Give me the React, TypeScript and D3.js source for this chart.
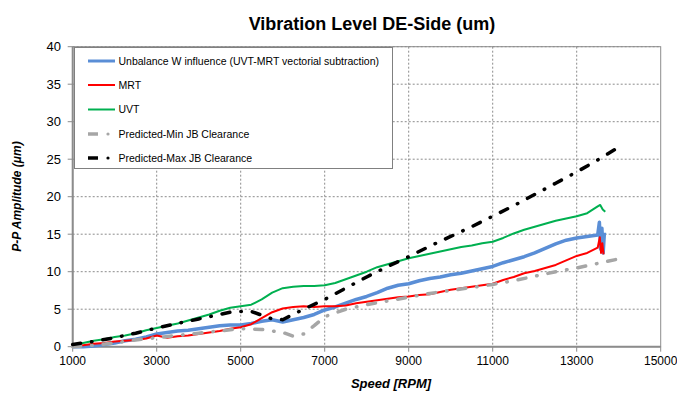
import React from "react";
import * as d3 from "d3";

const TITLE = "Vibration Level DE-Side (um)";
const X_TITLE = "Speed [RPM]";
const Y_TITLE = "P-P Amplitude (\u03bcm)";
const X_TICKS = [1000, 3000, 5000, 7000, 9000, 11000, 13000, 15000];
const Y_TICKS = [0, 5, 10, 15, 20, 25, 30, 35, 40];

const RPM_MAIN = [1000,1250,1500,1750,2000,2250,2500,2750,3000,3250,3500,3750,4000,4250,4500,4750,5000,5250,5500,5750,6000,6250,6500,6750,7000,7250,7500,7750,8000,8250,8500,8750,9000,9250,9500,9750,10000,10250,10500,10750,11000,11250,11500,11750,12000,12250,12500,12750,13000,13250,13500];

const UNB_RPM = [...RPM_MAIN, 13540, 13570, 13600, 13630, 13660];
const UNB_VAL = [0.0,0.0,0.1,0.3,0.5, 0.8,1.0,1.3,1.7, 1.9,2.1,2.2,2.4, 2.6,2.8,2.9,2.9, 3.1,3.4,3.6,3.3, 3.6,3.9,4.3,4.9, 5.3,5.8,6.3,6.7, 7.2,7.8,8.2,8.4, 8.8,9.1,9.3,9.6, 9.8,10.1,10.4,10.7, 11.2,11.6,12.0,12.5, 13.1,13.7,14.2,14.5, 14.7,14.9, 16.6,13.0,15.8,12.5,15.2];

const MRT_RPM = [...RPM_MAIN, 13550, 13580, 13610, 13640];
const MRT_VAL = [0.0,0.2,0.4,0.5,0.7, 0.8,0.9,1.1,1.5, 1.2,1.4,1.5,1.7, 1.9,2.1,2.4,2.6, 3.0,3.8,4.6,5.1, 5.3,5.4,5.3,5.4, 5.4,5.5,5.8,6.0, 6.2,6.4,6.6,6.7, 6.9,7.0,7.3,7.6, 7.8,8.0,8.2,8.4, 8.9,9.3,9.8,10.1, 10.5,10.9,11.5,12.1, 12.5,13.2, 14.6,12.5,13.8,12.3];

const UVT_RPM = [...RPM_MAIN, 13560, 13620, 13680];
const UVT_VAL = [0.2,0.5,0.8,1.0,1.3, 1.5,1.8,2.2,2.5, 2.8,3.1,3.5,3.9, 4.3,4.8,5.2,5.4, 5.6,6.3,7.2,7.8, 8.0,8.1,8.1,8.2, 8.5,9.0,9.5,10.0, 10.6,11.0,11.4,11.8, 12.1,12.4,12.7,13.0, 13.3,13.5,13.8,14.0, 14.5,15.1,15.6,16.0, 16.4,16.8,17.1,17.4, 17.8,18.7, 18.9,18.3,18.0];

const MIN_RPM = [1000,1500,2000,2500,3000,3500,4000,4500,5000,5500,6000,6250,6500,6750,7000,7500,8000,8500,9000,9500,10000,10500,11000,11500,12000,12500,13000,13500,14000];
const MIN_VAL = [0.0,0.2,0.5,0.9,1.2,1.5,1.8,2.1,2.4,2.3,1.9,1.4,1.7,2.8,4.0,5.0,5.6,6.1,6.6,7.1,7.5,7.9,8.3,8.8,9.4,10.0,10.5,11.1,11.7];

const MAX_RPM = [1000,1500,2000,2500,3000,3500,4000,4500,4750,5000,5250,5500,5750,6000,6250,6500,7000,7500,8000,8500,9000,9500,10000,10500,11000,11500,12000,12500,13000,13500,14000];
const MAX_VAL = [0.3,0.7,1.2,1.8,2.5,3.1,3.7,4.3,4.6,4.7,4.7,4.2,3.7,3.6,4.3,5.0,6.3,7.8,9.3,10.7,12.0,13.4,14.7,16.0,17.4,18.8,20.3,21.8,23.3,24.9,26.6];

const SERIES_NAMES = [
  "Unbalance W influence (UVT-MRT vectorial subtraction)",
  "MRT",
  "UVT",
  "Predicted-Min JB Clearance",
  "Predicted-Max JB Clearance",
];

const FONT = "'Liberation Sans', Arial, sans-serif";

export default function App() {
  const W = 677, H = 394;
  const left = 72.7, right = 660.7, top = 46.7, bottom = 346.7;
  const x = d3.scaleLinear().domain([1000, 15000]).range([left, right]);
  const y = d3.scaleLinear().domain([0, 40]).range([bottom, top]);
  const line = (rpm: number[], val: number[]) =>
    d3.line<number>().x((_, i) => x(rpm[i])).y((v) => y(v))(val) || "";

  const series = [
    { rpm: UNB_RPM, val: UNB_VAL, color: "#5a8ed6", width: 3.5, dash: undefined, cap: "butt" },
    { rpm: MRT_RPM, val: MRT_VAL, color: "#ff0000", width: 2, dash: undefined, cap: "butt" },
    { rpm: UVT_RPM, val: UVT_VAL, color: "#00b050", width: 2, dash: undefined, cap: "butt" },
    { rpm: MIN_RPM, val: MIN_VAL, color: "#a6a6a6", width: 3.5, dash: "8 11 0.5 11", cap: "round" },
    { rpm: MAX_RPM, val: MAX_VAL, color: "#000000", width: 3.5, dash: "8 11 0.5 11", cap: "round" },
  ];

  const legendY = [61, 85, 109.5, 134, 158];

  return (
    <svg width={W} height={H} style={{ position: "absolute", left: 0, top: 0, display: "block", background: "#fff" }} fontFamily={FONT}>
      <rect x={0} y={0} width={W} height={H} fill="#fff" />
      <text x={372} y={30} textAnchor="middle" fontSize={18} fontWeight="bold" fill="#000">{TITLE}</text>

      {/* grid */}
      {Y_TICKS.filter((t) => t > 0).map((t) => (
        <line key={"gy" + t} x1={left} x2={right} y1={y(t)} y2={y(t)} stroke="#8c8c8c" strokeWidth={1} strokeDasharray="2 2" />
      ))}
      {X_TICKS.filter((t) => t > 1000 && t < 15000).map((t) => (
        <line key={"gx" + t} x1={x(t)} x2={x(t)} y1={top} y2={bottom} stroke="#8c8c8c" strokeWidth={1} strokeDasharray="2 2" />
      ))}
      <rect x={left} y={top} width={right - left} height={bottom - top} fill="none" stroke="#8c8c8c" strokeWidth={1} />
      <line x1={left} x2={left} y1={top} y2={bottom} stroke="#8c8c8c" strokeWidth={2} />
      <line x1={left} x2={right} y1={bottom} y2={bottom} stroke="#8c8c8c" strokeWidth={2} />

      {/* ticks */}
      {Y_TICKS.map((t) => (
        <g key={"ty" + t}>
          <line x1={left - 5} x2={left} y1={y(t)} y2={y(t)} stroke="#8c8c8c" strokeWidth={1} />
          <text x={61} y={y(t) + 4.7} textAnchor="end" fontSize={13} fill="#000">{t}</text>
        </g>
      ))}
      {X_TICKS.map((t) => (
        <g key={"tx" + t}>
          <line x1={x(t)} x2={x(t)} y1={bottom} y2={bottom + 5} stroke="#8c8c8c" strokeWidth={1} />
          <text x={x(t)} y={365} textAnchor="middle" fontSize={12} fill="#000">{t}</text>
        </g>
      ))}

      {/* series */}
      {series.map((s, i) => (
        <path key={"s" + i} d={line(s.rpm, s.val)} fill="none" stroke={s.color} strokeWidth={s.width}
          strokeDasharray={s.dash} strokeLinecap={s.cap as any} strokeLinejoin="round" />
      ))}

      {/* axis titles */}
      <text x={391} y={388} textAnchor="middle" fontSize={13} fontWeight="bold" fontStyle="italic" fill="#000">{X_TITLE}</text>
      <text transform={`translate(21,${196.5}) rotate(-90)`} textAnchor="middle" fontSize={12} fontWeight="bold" fontStyle="italic" fill="#000">{Y_TITLE}</text>

      {/* legend */}
      <rect x={74.5} y={47.5} width={318} height={121} fill="#fff" stroke="#808080" strokeWidth={1} />
      {series.map((s, i) => (
        <g key={"lg" + i}>
          {s.dash ? (
            <g>
              <line x1={88} x2={98} y1={legendY[i]} y2={legendY[i]} stroke={s.color} strokeWidth={3.5} />
              <circle cx={108} cy={legendY[i]} r={1.6} fill={s.color} />
            </g>
          ) : (
            <line x1={88} x2={115} y1={legendY[i]} y2={legendY[i]} stroke={s.color} strokeWidth={i === 0 ? 3 : 2} />
          )}
          <text x={118.5} y={legendY[i] + 3.7} fontSize={10.5} fill="#000">{SERIES_NAMES[i]}</text>
        </g>
      ))}
    </svg>
  );
}
